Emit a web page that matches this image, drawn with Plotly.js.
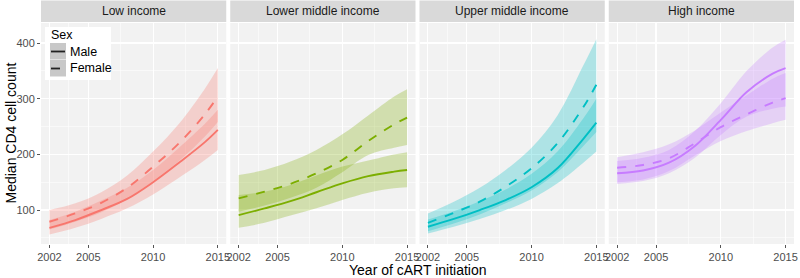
<!DOCTYPE html>
<html>
<head>
<meta charset="utf-8">
<script src="https://cdn.plot.ly/plotly-3.0.1.min.js"></script>
<style>html,body{margin:0;padding:0;background:#fff;}#chart{width:800px;height:278px;}</style>
</head>
<body>
<div id="chart"></div>
<script>
// ---------- data ----------
const years = [2002, 2004, 2006, 2008, 2010, 2012, 2014, 2015];
const panelNames = ['Low income', 'Lower middle income', 'Upper middle income', 'High income'];
const panelColors = ['#F8766D', '#7CAE00', '#00BFC4', '#C77CFF'];
const xTicks = [2002, 2005, 2010, 2015];
const yTicks = [100, 200, 300, 400];
const sexLabels = ['Male', 'Female'];

// Low income
const lowMale     = [68, 82, 100, 120, 150, 185, 222, 244];
const lowMaleLo   = [56, 68, 84, 103, 128, 158, 190, 208];
const lowMaleHi   = [82, 97, 117, 140, 172, 212, 255, 280];
const lowFemale   = [79, 94, 113, 140, 178, 220, 272, 304];
const lowFemaleLo = [65, 79, 96, 120, 152, 188, 232, 258];
const lowFemaleHi = [100, 112, 132, 162, 205, 255, 318, 355];
// Lower middle income
const lmMale      = [91, 103, 116, 132, 148, 161, 169, 172];
const lmMaleLo    = [68, 77, 90, 103, 118, 131, 139, 141];
const lmMaleHi    = [127, 133, 145, 162, 178, 189, 200, 204];
const lmFemale    = [121, 133, 147, 166, 190, 224, 254, 266];
const lmFemaleLo  = [97, 108, 122, 140, 168, 199, 212, 217];
const lmFemaleHi  = [163, 172, 187, 208, 236, 270, 304, 317];
// Upper middle income
const umMale      = [70, 84, 100, 118, 141, 175, 228, 257];
const umMaleLo    = [58, 70, 84, 100, 120, 148, 185, 205];
const umMaleHi    = [83, 98, 116, 137, 165, 205, 265, 300];
const umFemale    = [77, 95, 115, 142, 175, 220, 285, 325];
const umFemaleLo  = [62, 76, 92, 112, 135, 168, 215, 240];
const umFemaleHi  = [94, 115, 140, 172, 212, 270, 360, 407];
// High income
const hiMale      = [166, 171, 185, 215, 262, 312, 345, 355];
const hiMaleLo    = [147, 152, 166, 194, 235, 268, 282, 286];
const hiMaleHi    = [188, 194, 208, 242, 292, 350, 392, 406];
const hiFemale    = [176, 181, 193, 220, 249, 272, 293, 301];
const hiFemaleLo  = [150, 155, 170, 198, 224, 242, 256, 262];
const hiFemaleHi  = [195, 204, 218, 243, 275, 306, 336, 346];

const series = [
  {male: lowMale, maleLo: lowMaleLo, maleHi: lowMaleHi, female: lowFemale, femaleLo: lowFemaleLo, femaleHi: lowFemaleHi},
  {male: lmMale, maleLo: lmMaleLo, maleHi: lmMaleHi, female: lmFemale, femaleLo: lmFemaleLo, femaleHi: lmFemaleHi},
  {male: umMale, maleLo: umMaleLo, maleHi: umMaleHi, female: umFemale, femaleLo: umFemaleLo, femaleHi: umFemaleHi},
  {male: hiMale, maleLo: hiMaleLo, maleHi: hiMaleHi, female: hiFemale, femaleLo: hiFemaleLo, femaleHi: hiFemaleHi}
];

// ---------- build ----------
function rgba(hex, a) {
  const r = parseInt(hex.slice(1,3),16), g = parseInt(hex.slice(3,5),16), b = parseInt(hex.slice(5,7),16);
  return `rgba(${r},${g},${b},${a})`;
}

const traces = [];
const W = 800, H = 278, mL = 41, mR = 6, mT = 23, mB = 34;
const plotW = W - mL - mR, plotH = H - mT - mB;
const gap = 4 / plotW;
const pw = (1 - 3 * gap) / 4;

const layout = {
  width: W, height: H,
  margin: {l: mL, r: mR, t: mT, b: mB, pad: 0},
  paper_bgcolor: '#ffffff',
  plot_bgcolor: '#f2f2f2',
  showlegend: false,
  font: {family: 'Liberation Sans, Arial, sans-serif', size: 11, color: '#4d4d4d'},
  shapes: [],
  annotations: []
};

series.forEach((s, i) => {
  const xa = i === 0 ? 'x' : 'x' + (i + 1);
  const ya = i === 0 ? 'y' : 'y' + (i + 1);
  const col = panelColors[i];
  const fill = rgba(col, 0.28);
  const common = {x: years, xaxis: xa, yaxis: ya, mode: 'lines', hoverinfo: 'skip'};
  // male ribbon
  traces.push(Object.assign({}, common, {y: s.maleLo, line: {width: 0, shape: 'spline', color: fill}}));
  traces.push(Object.assign({}, common, {y: s.maleHi, fill: 'tonexty', fillcolor: fill, line: {width: 0, shape: 'spline', color: fill}}));
  // female ribbon
  traces.push(Object.assign({}, common, {y: s.femaleLo, line: {width: 0, shape: 'spline', color: fill}}));
  traces.push(Object.assign({}, common, {y: s.femaleHi, fill: 'tonexty', fillcolor: fill, line: {width: 0, shape: 'spline', color: fill}}));
  // lines
  traces.push(Object.assign({}, common, {y: s.male, name: sexLabels[0], line: {width: 1.9, shape: 'spline', color: col}}));
  traces.push(Object.assign({}, common, {y: s.female, name: sexLabels[1], line: {width: 1.9, shape: 'spline', color: col, dash: 'dash'}}));

  const d0 = i * (pw + gap), d1 = d0 + pw;
  const xKey = i === 0 ? 'xaxis' : 'xaxis' + (i + 1);
  const yKey = i === 0 ? 'yaxis' : 'yaxis' + (i + 1);
  layout[xKey] = {
    domain: [d0, d1], anchor: ya, range: [2001.35, 2015.65],
    tickmode: 'array', tickvals: xTicks, ticktext: xTicks.map(String),
    ticks: 'outside', ticklen: 3, tickcolor: '#555', tickwidth: 1,
    tickfont: {size: 11, color: '#4d4d4d'},
    showgrid: true, gridcolor: '#ffffff', gridwidth: 1.1,
    minor: {tickmode: 'array', tickvals: [2003.5, 2007.5, 2012.5], showgrid: true, gridcolor: '#ffffff', gridwidth: 0.5, ticks: ''},
    zeroline: false, showline: false, fixedrange: true
  };
  layout[yKey] = {
    domain: [0, 1], anchor: xa, range: [39, 436],
    tickmode: 'array', tickvals: yTicks, ticktext: yTicks.map(String),
    ticks: i === 0 ? 'outside' : '', ticklen: 3, tickcolor: '#555', tickwidth: 1,
    showticklabels: i === 0,
    tickfont: {size: 11, color: '#4d4d4d'},
    showgrid: true, gridcolor: '#ffffff', gridwidth: 1.1,
    minor: {tickmode: 'array', tickvals: [50, 150, 250, 350], showgrid: true, gridcolor: '#ffffff', gridwidth: 0.5, ticks: ''},
    zeroline: false, showline: false, fixedrange: true
  };
  if (i > 0) layout[yKey].matches = 'y';

  // strip
  layout.shapes.push({type: 'rect', xref: 'paper', yref: 'paper', x0: d0, x1: d1,
    y0: 1 + 1 / plotH, y1: 1 + 22.5 / plotH, fillcolor: '#d9d9d9', line: {width: 0}, layer: 'below'});
  layout.annotations.push({xref: 'paper', yref: 'paper', x: (d0 + d1) / 2, y: 1 + 11.5 / plotH,
    text: panelNames[i], showarrow: false, xanchor: 'center', yanchor: 'middle',
    font: {size: 12, color: '#1a1a1a'}});
});

// axis titles
layout.annotations.push({xref: 'paper', yref: 'paper', x: 0.5, y: -(270 - (H - mB)) / plotH,
  text: 'Year of cART initiation', showarrow: false, xanchor: 'center', yanchor: 'middle',
  font: {size: 14, color: '#000'}});
layout.annotations.push({xref: 'paper', yref: 'paper', x: (10 - mL) / plotW, y: 0.5,
  text: 'Median CD4 cell count', showarrow: false, textangle: -90, xanchor: 'center', yanchor: 'middle',
  font: {size: 14, color: '#000'}});

// legend (drawn manually, ggplot style)
function px2x(px) { return (px - mL) / plotW; }
function py2y(py) { return 1 - (py - mT) / plotH; }
layout.shapes.push({type: 'rect', xref: 'paper', yref: 'paper', x0: px2x(45), x1: px2x(111), y0: py2y(27), y1: py2y(80),
  fillcolor: '#ffffff', line: {width: 0}});
const keyTops = [43, 60];
keyTops.forEach((t, k) => {
  layout.shapes.push({type: 'rect', xref: 'paper', yref: 'paper', x0: px2x(50), x1: px2x(66), y0: py2y(t), y1: py2y(t + 16.5),
    fillcolor: '#c8c8c8', line: {width: 0}});
  layout.shapes.push({type: 'line', xref: 'paper', yref: 'paper', x0: px2x(51), x1: px2x(65), y0: py2y(t + 8.5), y1: py2y(t + 8.5),
    line: {color: '#222', width: 1.8, dash: k === 0 ? 'solid' : 'dash'}});
  layout.annotations.push({xref: 'paper', yref: 'paper', x: px2x(68), y: py2y(t + 8.5), text: sexLabels[k],
    showarrow: false, xanchor: 'left', yanchor: 'middle', font: {size: 12.5, color: '#000'}});
});
layout.annotations.push({xref: 'paper', yref: 'paper', x: px2x(49), y: py2y(35), text: 'Sex',
  showarrow: false, xanchor: 'left', yanchor: 'middle', font: {size: 12.5, color: '#000'}});

Plotly.newPlot('chart', traces, layout, {staticPlot: true, displayModeBar: false});
</script>
</body>
</html>
